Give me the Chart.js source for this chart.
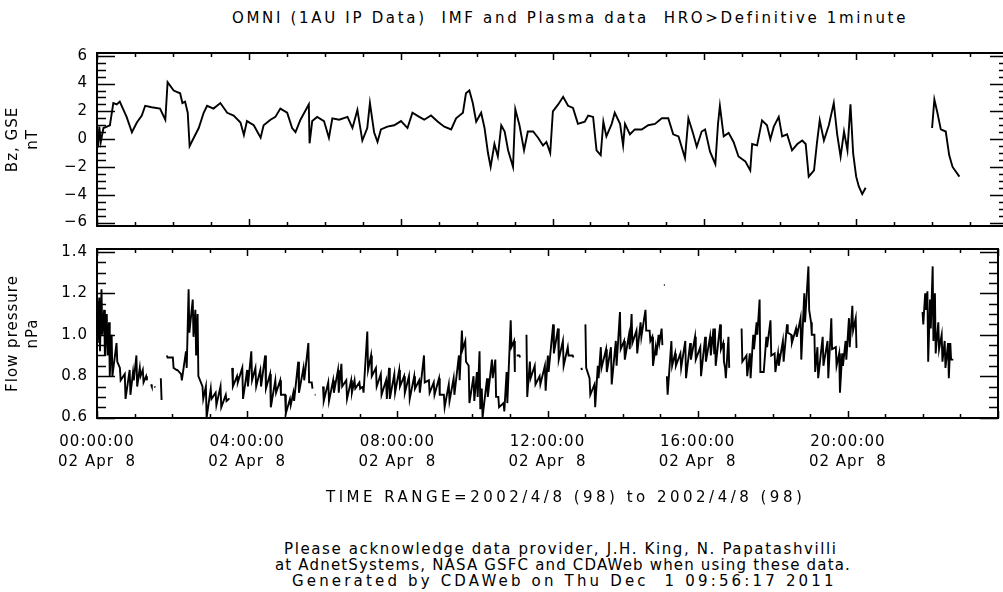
<!DOCTYPE html>
<html>
<head>
<meta charset="utf-8">
<script src="https://cdn.jsdelivr.net/npm/chart.js@4.4.1/dist/chart.umd.min.js"></script>
<style>
  html, body { margin: 0; padding: 0; background: #fff; overflow: hidden; }
  #page { position: relative; width: 1003px; height: 592px; overflow: hidden; background: #fff; }
  canvas { position: absolute; left: 0; }
  .txt { position: absolute; font: 15px "DejaVu Sans", sans-serif; line-height: 16px; color: #000; white-space: pre; }
</style>
</head>
<body>
<div id="page">
  <div class="txt" data-x0="232" data-x1="908" style="top:10px">OMNI (1AU IP Data)  IMF and Plasma data  HRO&gt;Definitive 1minute</div>
  <canvas id="bzChart" width="1012" height="245" style="top:0"></canvas>
  <canvas id="flowChart" width="1012" height="260" style="top:230px"></canvas>
  <div class="txt" data-x0="326" data-x1="805" style="top:489px">TIME RANGE=2002/4/8 (98) to 2002/4/8 (98)</div>
  <div class="txt" data-x0="284" data-x1="838" style="top:541px">Please acknowledge data provider, J.H. King, N. Papatashvilli</div>
  <div class="txt" data-x0="275" data-x1="851" style="top:557px">at AdnetSystems, NASA GSFC and CDAWeb when using these data.</div>
  <div class="txt" data-x0="292" data-x1="837" style="top:573px">Generated by CDAWeb on Thu Dec  1 09:56:17 2011</div>
</div>
<script>
// hours since 00:00 UT, 2002-04-08
const bzHours = [
  0.00,0.03,0.06,0.10,0.17,0.34,0.43,0.52,0.60,0.65,
  0.78,0.92,1.05,1.18,1.27,1.44,1.66,1.80,1.86,2.02,
  2.19,2.25,2.32,2.39,2.44,2.55,2.68,2.81,2.90,3.07,
  3.25,3.43,3.60,3.78,3.87,3.95,4.13,4.31,4.39,4.57,
  4.70,4.83,5.01,5.14,5.23,5.36,5.50,5.58,5.60,5.67,
  5.80,5.98,6.11,6.20,6.38,6.60,6.73,6.86,6.99,7.12,
  7.19,7.30,7.39,7.48,7.65,7.83,8.01,8.18,8.31,8.49,
  8.62,8.80,8.98,9.15,9.33,9.46,9.64,9.72,9.81,9.90,
  9.99,10.12,10.21,10.30,10.37,10.47,10.56,10.65,10.74,10.83,
  10.96,11.02,11.13,11.25,11.35,11.49,11.62,11.75,11.84,11.94,
  12.01,12.15,12.28,12.41,12.54,12.67,12.85,12.94,13.07,13.16,
  13.27,13.34,13.42,13.56,13.64,13.78,13.86,13.91,14.04,14.17,
  14.35,14.52,14.70,14.88,15.05,15.18,15.32,15.49,15.58,15.71,
  15.80,15.93,16.02,16.15,16.29,16.36,16.41,16.51,16.64,16.77,
  16.90,17.08,17.21,17.26,17.39,17.52,17.65,17.74,17.83,17.96,
  18.05,18.18,18.31,18.45,18.58,18.67,18.75,18.89,18.97,19.04,
  19.15,19.28,19.41,19.50,19.59,19.68,19.77,19.85,19.92,20.00,
  20.07,20.16,20.25,21.00,22.00,22.06,22.14,22.23,22.36,22.45,
  22.54,22.72
];
// Bz GSE, nT
const bzValues = [
  0.3,-0.6,0.9,-0.2,0.8,1.0,2.6,2.5,2.7,2.4,
  1.6,0.5,1.2,1.7,2.4,2.3,2.2,1.4,4.1,3.5,
  3.3,2.6,2.7,1.9,-0.5,0.1,0.8,1.9,2.4,2.2,
  2.6,1.9,1.7,1.2,0.3,1.3,1.0,0.1,1.0,1.4,
  1.6,2.2,1.9,0.8,0.5,1.4,2.1,2.5,-0.3,1.3,
  1.6,1.3,0.1,1.5,1.4,1.6,0.8,2.1,-0.1,0.8,
  2.6,0.5,-0.2,0.7,0.9,1.0,1.3,0.8,1.9,1.6,
  1.4,1.7,1.25,0.9,0.7,1.5,1.9,3.3,3.5,2.6,
  1.25,1.9,0.8,-1.0,-2.0,-0.35,-1.25,1.0,0.55,-0.8,
  -2.0,2.15,1.0,-0.8,0.55,0.55,0.1,-0.45,-0.2,-1.0,
  2.0,2.5,3.05,2.4,2.25,1.1,1.25,1.7,1.6,-0.8,
  -1.15,1.25,0.2,1.1,1.9,1.1,-0.45,1.1,0.35,0.7,
  0.7,1.0,1.1,1.5,1.5,0.35,0.2,-1.35,1.5,0.35,
  -0.55,0.55,0.7,-0.9,-1.8,1.1,2.4,0.2,0.45,-0.2,
  -1.25,-1.6,-2.25,-0.35,-0.45,1.35,1.0,0.0,0.9,1.6,
  0.2,0.35,-0.8,-0.35,-0.1,-0.35,-2.7,-2.25,-0.2,1.35,
  -0.1,1.0,2.6,0.35,-1.25,0.55,-0.8,2.5,-1.0,-2.7,
  -3.4,-3.95,-3.5,null,0.8,2.85,1.9,0.7,0.55,-1.15,
  -2.0,-2.7
];

// flow pressure, nPa: low and high of the 1-minute scatter around each time
const flowHours = [
  0.00,0.06,0.12,0.19,0.26,0.32,0.39,0.52,0.61,0.74,
  0.87,0.96,1.05,1.14,1.22,1.31,1.36,1.44,1.47,1.53,
  1.56,1.70,1.72,1.86,2.02,2.12,2.24,2.37,2.44,2.55,
  2.62,2.68,2.81,2.90,3.03,3.16,3.29,3.43,3.51,3.55,
  3.60,3.73,3.87,4.00,4.11,4.22,4.35,4.48,4.61,4.75,
  4.88,5.01,5.14,5.23,5.36,5.50,5.63,5.72,5.76,5.80,
  5.83,5.89,5.92,6.02,6.16,6.29,6.42,6.51,6.64,6.77,
  6.86,6.99,7.08,7.20,7.30,7.43,7.56,7.70,7.78,7.92,
  8.05,8.18,8.31,8.45,8.58,8.71,8.84,8.97,9.11,9.24,
  9.37,9.50,9.64,9.72,9.81,9.90,10.03,10.12,10.19,10.25,
  10.39,10.52,10.61,10.69,10.83,10.91,11.02,11.11,11.14,11.18,
  11.25,11.28,11.44,11.53,11.66,11.79,11.93,12.01,12.15,12.28,
  12.41,12.54,12.67,12.70,12.90,12.93,13.01,13.12,13.25,13.34,
  13.42,13.56,13.69,13.82,13.93,14.04,14.17,14.24,14.37,14.48,
  14.61,14.72,14.79,14.88,14.96,15.04,15.07,15.10,15.13,15.18,
  15.30,15.40,15.54,15.67,15.80,15.93,16.07,16.20,16.33,16.42,
  16.46,16.60,16.68,16.73,16.82,16.86,17.17,17.30,17.39,17.48,
  17.57,17.65,17.74,17.83,17.94,18.05,18.14,18.27,18.38,18.49,
  18.62,18.74,18.84,18.95,19.02,19.11,19.19,19.33,19.46,19.56,
  19.68,19.77,19.85,19.94,20.03,20.12,20.21,20.25,20.30,21.99,
  22.06,22.12,22.19,22.26,22.32,22.41,22.50,22.58,22.67,22.73,22.79
];
const flowLow = [
  0.96,0.92,1.00,0.90,0.90,0.80,0.80,0.87,0.78,0.69,
  0.71,0.78,0.75,0.80,0.77,0.78,null,0.75,null,0.745,
  null,0.685,null,0.89,0.84,0.83,0.78,0.84,1.01,0.99,
  0.90,0.80,0.69,0.60,0.69,0.66,0.65,0.68,0.69,null,
  0.75,0.77,0.69,0.75,0.78,0.75,0.75,0.74,0.65,0.72,
  0.71,0.62,0.66,0.68,0.72,0.78,0.77,0.74,null,0.71,
  null,0.68,null,0.68,0.68,0.72,0.72,0.75,0.69,0.72,
  0.74,0.74,0.72,0.83,0.80,0.75,0.71,0.69,0.69,0.72,
  0.75,0.72,0.69,0.74,0.72,0.77,0.72,0.71,0.71,0.65,
  0.68,0.71,0.78,0.93,0.87,0.67,0.68,0.70,0.64,0.60,
  0.70,0.79,0.70,0.65,0.63,0.67,0.94,0.82,null,0.90,
  0.89,null,0.70,0.79,0.76,0.76,0.73,0.82,0.91,0.88,
  0.85,0.90,0.89,null,0.83,null,0.84,0.71,0.65,0.79,
  0.84,0.82,0.76,0.85,0.93,0.88,0.93,0.96,0.91,0.99,
  1.02,0.97,0.85,0.90,0.96,0.95,null,1.24,null,0.71,
  0.85,0.85,0.84,0.79,0.88,0.88,0.80,0.87,0.90,0.91,
  0.85,0.93,0.87,0.79,0.84,null,0.87,0.80,0.79,0.93,
  1.00,0.82,0.82,0.94,0.90,0.82,0.85,0.87,1.01,0.96,
  0.99,0.88,1.06,1.12,1.00,0.82,0.79,0.85,0.79,0.93,
  0.85,0.72,0.85,0.88,0.94,1.02,0.94,0.94,null,1.05,
  1.12,0.87,1.03,0.97,0.91,0.93,0.87,0.84,0.79,0.88,0.88
];
const flowHigh = [
  1.16,1.18,1.22,1.12,1.10,1.06,1.00,0.96,0.84,0.81,
  0.83,0.82,0.90,0.84,0.83,0.80,null,0.76,null,0.75,
  null,0.79,null,0.90,0.89,0.83,0.81,0.92,1.22,1.17,
  1.12,1.10,0.75,0.75,0.74,0.72,0.75,0.71,0.69,null,
  0.84,0.80,0.84,0.83,0.92,0.84,0.83,0.90,0.81,0.78,
  0.78,0.71,0.69,0.72,0.87,0.84,0.96,0.77,null,0.71,
  null,0.68,null,0.75,0.77,0.78,0.83,0.86,0.78,0.78,
  0.78,0.77,0.75,1.015,0.90,0.84,0.81,0.78,0.84,0.81,
  0.83,0.80,0.80,0.80,0.78,0.90,0.78,0.77,0.79,0.71,
  0.76,0.79,0.90,1.02,0.97,0.85,0.80,0.82,0.92,0.74,
  0.79,0.88,0.88,0.70,0.67,0.82,1.07,0.97,null,0.90,
  0.90,null,1.00,0.87,0.85,0.80,0.85,0.90,1.05,1.03,
  0.97,0.94,0.90,null,0.84,null,1.05,0.79,0.76,0.85,
  0.94,0.93,0.94,0.97,1.11,0.97,1.00,1.10,1.02,1.06,
  1.12,1.02,0.99,0.94,1.00,1.03,null,1.24,null,0.80,
  0.97,0.91,0.91,0.97,0.96,0.99,0.94,0.99,0.99,1.03,
  1.03,1.05,0.96,0.84,0.99,null,1.03,0.90,0.91,1.00,
  1.06,1.17,0.82,0.99,1.07,0.91,0.91,0.97,1.05,1.00,
  1.03,1.08,1.20,1.33,1.06,1.00,0.94,0.99,0.97,1.08,
  0.94,0.91,0.91,0.97,1.08,1.14,1.08,0.94,null,1.11,
  1.20,1.21,1.17,1.33,1.20,1.06,1.00,0.97,0.96,0.96,0.88
];

const dayLabel = '02 Apr  8';
const FONT = '"DejaVu Sans", sans-serif';

// stretch the page texts to the widths of the original lines
document.querySelectorAll('.txt').forEach(el => {
  const target = +el.dataset.x1 - +el.dataset.x0;
  const ls = (target - el.offsetWidth) / el.textContent.length;
  el.style.left = el.dataset.x0 + 'px';
  el.style.letterSpacing = ls.toFixed(2) + 'px';
});

function isMajor(v, step) {
  const r = v / step;
  return Math.abs(r - Math.round(r)) < 1e-6;
}

// IDL-style frame: box plus inward ticks on all four sides
const idlFrame = {
  id: 'idlFrame',
  beforeDraw(chart) {
    chart.ctx.letterSpacing = '1px';
  },
  afterDatasetsDraw(chart, args, o) {
    const { ctx, chartArea: a, scales: { x, y } } = chart;
    ctx.save();
    ctx.strokeStyle = '#000';
    ctx.lineWidth = 2;
    ctx.strokeRect(a.left, a.top, a.right - a.left, a.bottom - a.top);
    ctx.lineWidth = 1.5;
    ctx.beginPath();
    const nx = Math.round((x.max - x.min) / o.xMinor);
    for (let i = 0; i <= nx; i++) {
      const v = x.min + i * o.xMinor;
      const px = Math.round(x.getPixelForValue(v)) + 0.5;
      const len = isMajor(v, o.xMajor) ? 7 : 4;
      ctx.moveTo(px, a.bottom); ctx.lineTo(px, a.bottom - len);
      ctx.moveTo(px, a.top); ctx.lineTo(px, a.top + len);
    }
    const k0 = Math.ceil(y.min / o.yMinor - 1e-6);
    const k1 = Math.floor(y.max / o.yMinor + 1e-6);
    for (let k = k0; k <= k1; k++) {
      const v = k * o.yMinor;
      const py = Math.round(y.getPixelForValue(v)) + 0.5;
      const len = isMajor(v, o.yMajor) ? 18 : 9;
      ctx.moveTo(a.left, py); ctx.lineTo(a.left + len, py);
      ctx.moveTo(a.right, py); ctx.lineTo(a.right - len, py);
    }
    ctx.stroke();
    ctx.restore();
  }
};

function hourLabel(v) {
  const h = Math.round(v);
  if (Math.abs(v - h) > 1e-6 || h % 4 !== 0 || h >= 24) return '';
  return [String(h).padStart(2, '0') + ':00:00', dayLabel];
}

const tickFont = { family: FONT, size: 15, lineHeight: '20px' };
const titleFont = { family: FONT, size: 15, lineHeight: '20px' };

function yAxis(min, max, step, fmt, title) {
  return {
    type: 'linear',
    min: min,
    max: max,
    afterFit: s => { s.width = 97; },
    grid: { display: false, drawTicks: false },
    border: { display: false },
    ticks: { stepSize: step, includeBounds: false, padding: 9, color: '#000', font: tickFont, callback: fmt },
    title: { display: true, text: title, color: '#000', font: titleFont, padding: { top: 3, bottom: 0 } }
  };
}

const bzData = bzHours.map((h, i) => ({ x: h, y: bzValues[i] }));

const flowData = [];
flowHours.forEach((h, i) => {
  if (flowLow[i] === null) {
    flowData.push({ x: h, y: null });
  } else {
    flowData.push({ x: h, y: flowHigh[i] });
    flowData.push({ x: h + 0.02, y: flowLow[i] });
  }
});

const lineStyle = { borderColor: '#000', borderWidth: 1.9, pointRadius: 0, tension: 0, spanGaps: false, fill: false };

new Chart(document.getElementById('bzChart'), {
  type: 'line',
  data: { datasets: [{ label: 'Bz, GSE', data: bzData, ...lineStyle }] },
  options: {
    responsive: false,
    animation: false,
    layout: { padding: { top: 53, bottom: 8, left: 0, right: 4 } },
    plugins: {
      legend: { display: false },
      tooltip: { enabled: false },
      idlFrame: { xMinor: 1, xMajor: 4, yMinor: 0.5, yMajor: 2 }
    },
    scales: {
      x: { type: 'linear', min: 0, max: 24, display: false },
      y: yAxis(-6.25, 6.2, 2, v => (v < 0 ? '\u2212' + Math.abs(v) : String(v)), ['Bz, GSE', 'nT'])
    }
  },
  plugins: [idlFrame]
});

new Chart(document.getElementById('flowChart'), {
  type: 'line',
  data: { datasets: [{ label: 'Flow pressure', data: flowData, ...lineStyle }] },
  options: {
    responsive: false,
    animation: false,
    layout: { padding: { top: 7, bottom: 0, left: 0, right: 4 } },
    plugins: {
      legend: { display: false },
      tooltip: { enabled: false },
      idlFrame: { xMinor: 1, xMajor: 4, yMinor: 0.05, yMajor: 0.2 }
    },
    scales: {
      x: {
        type: 'linear',
        min: 0,
        max: 24,
        afterFit: s => { s.height = 72; },
        grid: { display: false, drawTicks: false },
        border: { display: false },
        ticks: { stepSize: 1, autoSkip: false, maxRotation: 0, minRotation: 0, padding: 14, color: '#000', font: tickFont, callback: hourLabel }
      },
      y: yAxis(0.598, 1.414, 0.2, v => v.toFixed(1), ['Flow pressure', 'nPa'])
    }
  },
  plugins: [idlFrame]
});
</script>
</body>
</html>
